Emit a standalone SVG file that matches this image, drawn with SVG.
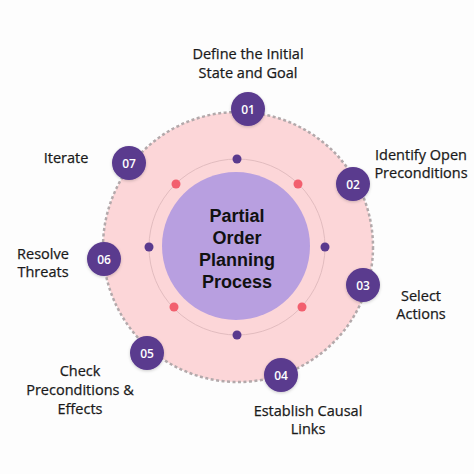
<svg xmlns="http://www.w3.org/2000/svg" width="474" height="474" viewBox="0 0 474 474">
<defs>
<style>
.lbl{font-family:"Open Sans","Liberation Sans",sans-serif;font-size:14.5px;fill:#1a1a1a;stroke:#1a1a1a;stroke-width:0.25;text-anchor:middle}
.ctr{font-family:"Liberation Sans",Arial,sans-serif;font-size:18px;font-weight:bold;fill:#111;text-anchor:middle}
.badge circle{fill:#5a3a8e;filter:url(#sh)}
.badge text{font-family:"Open Sans","Liberation Sans",sans-serif;font-size:12px;font-weight:600;fill:#fff;text-anchor:middle}
.pd{fill:#5a3a8e}
.rd{fill:#f25f6e}
</style>
<filter id="sh" x="-30%" y="-30%" width="160%" height="160%">
<feDropShadow dx="0" dy="1" stdDeviation="1.5" flood-color="#000" flood-opacity="0.2"/>
</filter>
</defs>
<rect width="474" height="474" fill="#fdfdfd"/>
<g id="ring">
<circle cx="238" cy="247" r="135" fill="#fcd6d8" stroke="#b3a9ab" stroke-width="2.5" stroke-dasharray="3 2.5"/>
<circle cx="237" cy="247" r="88" fill="none" stroke="#e2bcbf" stroke-width="1"/>
</g>
<g id="connectors">
<circle class="pd" cx="237" cy="159" r="4.5"/>
<circle class="pd" cx="237" cy="335" r="4.5"/>
<circle class="pd" cx="149" cy="247" r="4.5"/>
<circle class="pd" cx="325" cy="247" r="4.5"/>
<circle class="rd" cx="176" cy="184" r="4.5"/>
<circle class="rd" cx="298" cy="184" r="4.5"/>
<circle class="rd" cx="174" cy="307" r="4.5"/>
<circle class="rd" cx="302" cy="307" r="4.5"/>
</g>
<g id="center">
<circle cx="236" cy="246" r="74" fill="#b89fe0"/>
<text class="ctr" x="237" y="222">Partial</text>
<text class="ctr" x="237" y="244">Order</text>
<text class="ctr" x="237" y="266">Planning</text>
<text class="ctr" x="237" y="288">Process</text>
</g>
<g id="step01" class="badge">
<circle cx="248" cy="109" r="17"/>
<text x="248" y="113.5">01</text>
</g>
<g id="label01"><text class="lbl" x="248" y="59">Define the Initial</text><text class="lbl" x="248" y="78">State and Goal</text></g>
<g id="step02" class="badge">
<circle cx="353" cy="184" r="17"/>
<text x="353" y="188.5">02</text>
</g>
<g id="label02"><text class="lbl" x="421" y="159.5">Identify Open</text><text class="lbl" x="421" y="177.5">Preconditions</text></g>
<g id="step03" class="badge">
<circle cx="363" cy="285" r="17"/>
<text x="363" y="289.5">03</text>
</g>
<g id="label03"><text class="lbl" x="421" y="300.5">Select</text><text class="lbl" x="421" y="318.5">Actions</text></g>
<g id="step04" class="badge">
<circle cx="281" cy="375" r="17"/>
<text x="281" y="379.5">04</text>
</g>
<g id="label04"><text class="lbl" x="308" y="416">Establish Causal</text><text class="lbl" x="308" y="434">Links</text></g>
<g id="step05" class="badge">
<circle cx="147" cy="353" r="17"/>
<text x="147" y="357.5">05</text>
</g>
<g id="label05"><text class="lbl" x="80" y="376">Check</text><text class="lbl" x="80" y="395">Preconditions &amp;</text><text class="lbl" x="80" y="414">Effects</text></g>
<g id="step06" class="badge">
<circle cx="104" cy="259" r="17"/>
<text x="104" y="263.5">06</text>
</g>
<g id="label06"><text class="lbl" x="43" y="258.5">Resolve</text><text class="lbl" x="43" y="276.5">Threats</text></g>
<g id="step07" class="badge">
<circle cx="129" cy="163" r="17"/>
<text x="129" y="167.5">07</text>
</g>
<g id="label07"><text class="lbl" x="66" y="163">Iterate</text></g>
</svg>
